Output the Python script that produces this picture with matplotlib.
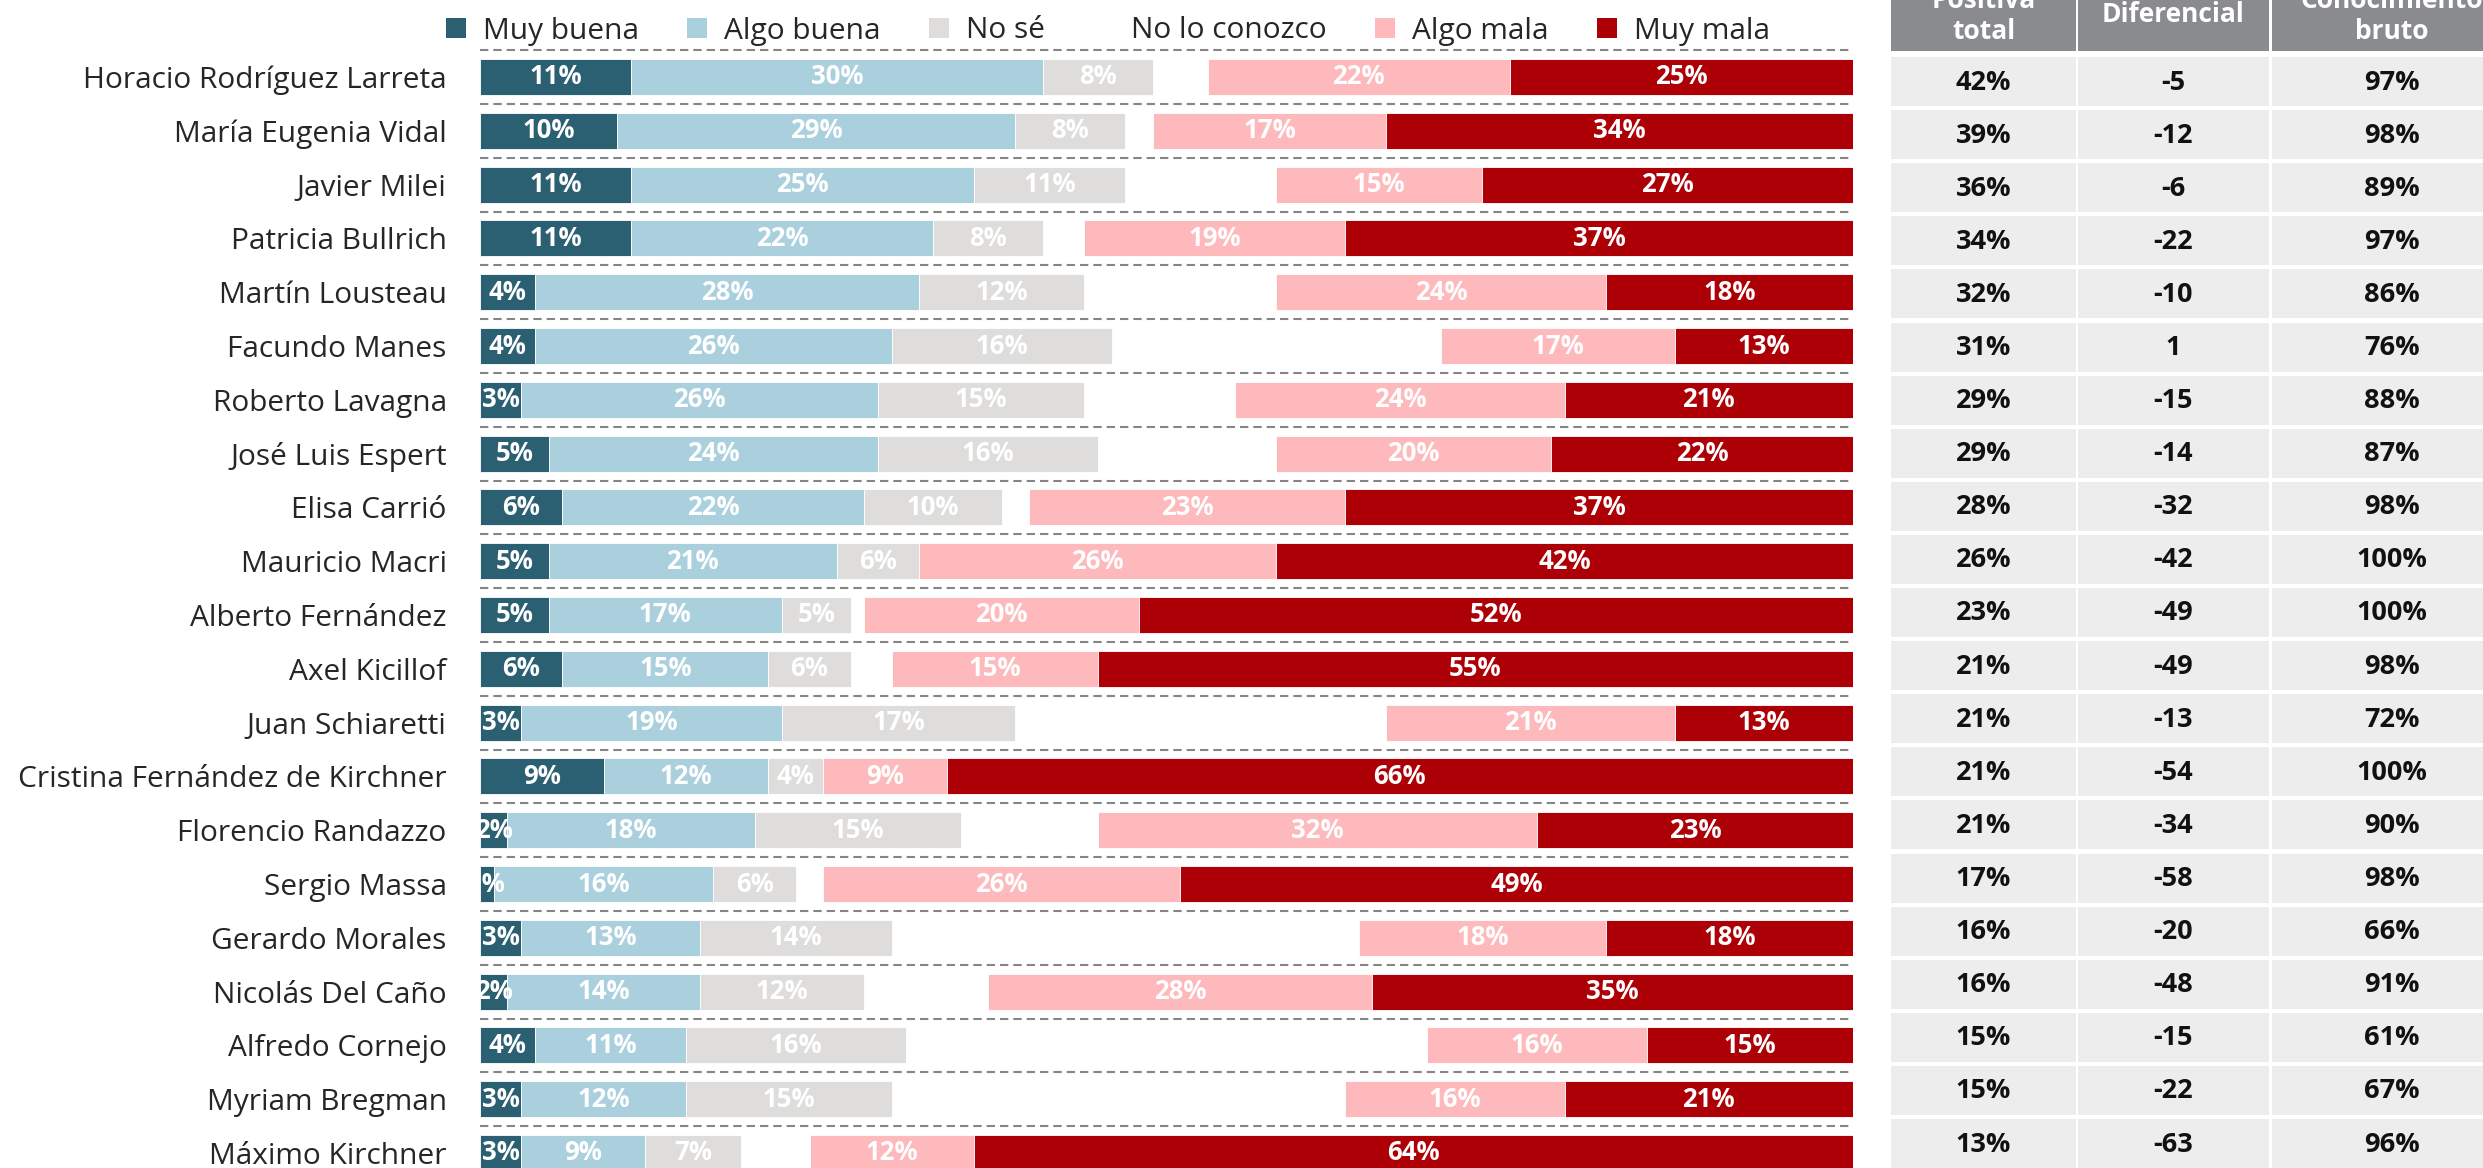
import matplotlib
matplotlib.use("Agg")
import matplotlib.pyplot as plt
from matplotlib.patches import Patch, Rectangle

plt.rcParams['font.family'] = ['Open Sans', 'DejaVu Sans']

# ---- data ----
names = ["Horacio Rodríguez Larreta", "María Eugenia Vidal", "Javier Milei",
         "Patricia Bullrich", "Martín Lousteau", "Facundo Manes", "Roberto Lavagna",
         "José Luis Espert", "Elisa Carrió", "Mauricio Macri", "Alberto Fernández",
         "Axel Kicillof", "Juan Schiaretti", "Cristina Fernández de Kirchner",
         "Florencio Randazzo", "Sergio Massa", "Gerardo Morales", "Nicolás Del Caño",
         "Alfredo Cornejo", "Myriam Bregman", "Máximo Kirchner"]
muy_buena  = [11, 10, 11, 11, 4, 4, 3, 5, 6, 5, 5, 6, 3, 9, 2, 1, 3, 2, 4, 3, 3]
algo_buena = [30, 29, 25, 22, 28, 26, 26, 24, 22, 21, 17, 15, 19, 12, 18, 16, 13, 14, 11, 12, 9]
no_se      = [8, 8, 11, 8, 12, 16, 15, 16, 10, 6, 5, 6, 17, 4, 15, 6, 14, 12, 16, 15, 7]
algo_mala  = [22, 17, 15, 19, 24, 17, 24, 20, 23, 26, 20, 15, 21, 9, 32, 26, 18, 28, 16, 16, 12]
muy_mala   = [25, 34, 27, 37, 18, 13, 21, 22, 37, 42, 52, 55, 13, 66, 23, 49, 18, 35, 15, 21, 64]
positiva     = [42, 39, 36, 34, 32, 31, 29, 29, 28, 26, 23, 21, 21, 21, 21, 17, 16, 16, 15, 15, 13]
diferencial  = [-5, -12, -6, -22, -10, 1, -15, -14, -32, -42, -49, -49, -13, -54, -34, -58, -20, -48, -15, -22, -63]
conocimiento = [97, 98, 89, 97, 86, 76, 88, 87, 98, 100, 100, 98, 72, 100, 90, 98, 66, 91, 61, 67, 96]

legend_labels = ["Muy buena", "Algo buena", "No sé", "No lo conozco", "Algo mala", "Muy mala"]
colors = ["#2b5f72", "#aad0de", "#dedddc", "#ffffff", "#fdb9bb", "#ad0006"]
table_headers = ["Positiva\ntotal", "Diferencial", "Conocimiento\nbruto"]

W, H = 2483, 1168
fig = plt.figure(figsize=(W / 100, H / 100), dpi=100)

# bar area (pixel layout)
bx0, bx1 = 480, 1853
row0, pitch = 77, 53.8
ax = fig.add_axes([bx0 / W, 0, (bx1 - bx0) / W, 1])
ax.set_xlim(0, 100)
ax.set_ylim((H - row0) / pitch, -row0 / pitch)
for s in ax.spines.values():
    s.set_visible(False)
ax.set_xticks([])

n = len(names)
ys = list(range(n))
bh = 36 / pitch

# dashed separators
ax.hlines([k - 0.5 for k in range(n)], 0, 100, colors="#858585", lw=1.5,
          linestyles=(0, (4, 2.4)), zorder=1)

lbl_size = 18.5

left_series = [muy_buena, algo_buena, no_se]
lefts = [0] * n
for vals, col in zip(left_series, colors[:3]):
    ax.barh(ys, vals, left=lefts, height=bh, color=col, edgecolor='white', lw=0.6, zorder=2)
    for i in range(n):
        ax.text(lefts[i] + vals[i] / 2, i, f"{vals[i]}%", ha='center', va='center',
                color='white', fontsize=lbl_size, fontweight='bold', clip_on=True, zorder=3)
    lefts = [a + b for a, b in zip(lefts, vals)]

am_left = [100 - a - b for a, b in zip(algo_mala, muy_mala)]
mm_left = [100 - b for b in muy_mala]
for vals, lft, col in [(algo_mala, am_left, colors[4]), (muy_mala, mm_left, colors[5])]:
    ax.barh(ys, vals, left=lft, height=bh, color=col, edgecolor='white', lw=0.6, zorder=2)
    for i in range(n):
        ax.text(lft[i] + vals[i] / 2, i, f"{vals[i]}%", ha='center', va='center',
                color='white', fontsize=lbl_size, fontweight='bold', clip_on=True, zorder=3)

ax.set_yticks(ys)
ax.set_yticklabels(names, fontsize=21.5, color="#262626")
ax.tick_params(axis='y', length=0, pad=24)

# legend
handles = [Patch(facecolor=c, edgecolor='none') for c in colors]
fig.legend(handles, legend_labels, ncol=6, loc='center left',
           bbox_to_anchor=(446 / W, 1 - 31 / H), bbox_transform=fig.transFigure,
           frameon=False, fontsize=21.5, handlelength=0.67, handleheight=0.67,
           handletextpad=0.57, columnspacing=1.62, borderpad=0, borderaxespad=0,
           labelcolor="#262626")

# table on the right, pixel coordinates
tx = fig.add_axes([0, 0, 1, 1], facecolor='none')
tx.set_xlim(0, W)
tx.set_ylim(H, 0)
tx.axis('off')
col_left = [1891, 2078, 2272]
col_w = [185, 191, 240]
hdr_bottom = 51
trow0, tpitch, cell_h = 57, 53.1, 49
for j, (cl, cw) in enumerate(zip(col_left, col_w)):
    tx.add_patch(Rectangle((cl, -20), cw, hdr_bottom + 20, facecolor="#898b8e", edgecolor='none'))
    hy = 16 if "\n" in table_headers[j] else 15
    tx.text(cl + cw / 2, hy, table_headers[j], ha='center', va='center', color='white',
            fontsize=19, fontweight='bold', linespacing=1.2)
    col_vals = [positiva, diferencial, conocimiento][j]
    for i in range(n):
        top = trow0 + tpitch * i
        tx.add_patch(Rectangle((cl, top), cw, cell_h, facecolor="#ecedec", edgecolor='none'))
        txt = f"{col_vals[i]}%" if j != 1 else f"{col_vals[i]}"
        tx.text(cl + cw / 2, top + cell_h / 2 + 1, txt, ha='center', va='center',
                color="#111111", fontsize=19.5, fontweight='bold')

fig.savefig("out.png", dpi=100)
